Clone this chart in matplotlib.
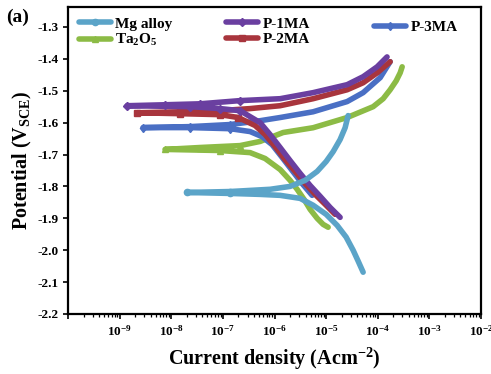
import numpy as np
import matplotlib
matplotlib.use("Agg")
import matplotlib.pyplot as plt
from matplotlib.ticker import LogLocator, NullFormatter

plt.rcParams.update({
    "font.family": ["Liberation Serif", "DejaVu Serif"],
    "font.weight": "bold",
    "mathtext.fontset": "custom",
    "mathtext.rm": "Liberation Serif:bold",
    "mathtext.bf": "Liberation Serif:bold",
    "mathtext.it": "Liberation Serif:italic:bold",
})

# Polarization curves: log10(i / A cm^-2) and E (V vs SCE),
# each ordered from the cathodic end, through Ecorr, to the anodic end.
mg_logi = [-4.283, -4.38, -4.477, -4.612, -4.787, -5.0, -5.252, -5.504, -5.891, -6.279, -6.86, -7.694,
           -6.86, -6.085, -5.698, -5.407, -5.174, -5.0, -4.864, -4.729, -4.632, -4.574]
mg_e = [-2.069, -2.034, -2.0, -1.959, -1.922, -1.8875, -1.859, -1.8375, -1.828, -1.825, -1.822, -1.819,
        -1.816, -1.809, -1.80, -1.781, -1.753, -1.722, -1.691, -1.653, -1.616, -1.578]

ta_logi = [-4.961, -5.058, -5.174, -5.31, -5.426, -5.562, -5.698, -5.891, -6.182, -6.473, -7.054, -8.12,
           -7.442, -6.667, -6.279, -5.833, -5.252, -4.593, -4.089, -3.895, -3.760, -3.643, -3.566, -3.527]
ta_e = [-1.928, -1.919, -1.90, -1.872, -1.841, -1.809, -1.781, -1.747, -1.7125, -1.694, -1.6875, -1.684,
        -1.678, -1.672, -1.659, -1.631, -1.616, -1.584, -1.55, -1.525, -1.497, -1.469, -1.444, -1.425]

p1_logi = [-4.729, -4.922, -5.116, -5.31, -5.504, -5.698, -5.891, -6.085, -6.279, -6.667, -7.054, -7.636, -8.857,
           -8.12, -7.442, -6.667, -5.891, -5.252, -4.593, -4.283, -4.012, -3.82]
p1_e = [-1.897, -1.866, -1.831, -1.797, -1.759, -1.719, -1.678, -1.6375, -1.60, -1.5625, -1.556, -1.55, -1.547,
        -1.544, -1.541, -1.531, -1.525, -1.506, -1.481, -1.456, -1.425, -1.394]

p2_logi = [-4.826, -5.019, -5.213, -5.407, -5.601, -5.795, -5.988, -6.182, -6.376, -6.705, -7.054, -7.829, -8.663,
           -7.829, -7.054, -6.473, -5.891, -5.252, -4.593, -4.283, -4.012, -3.760]
p2_e = [-1.8875, -1.856, -1.825, -1.791, -1.753, -1.716, -1.675, -1.6375, -1.609, -1.584, -1.575, -1.572, -1.569,
        -1.566, -1.5625, -1.556, -1.547, -1.525, -1.497, -1.475, -1.444, -1.409]

p3_logi = [-5.271, -5.465, -5.659, -5.853, -6.047, -6.24, -6.473, -6.86, -7.636, -8.547,
           -7.636, -6.86, -6.279, -5.891, -5.252, -4.593, -4.283, -3.953, -3.760]
p3_e = [-1.828, -1.791, -1.75, -1.709, -1.669, -1.644, -1.628, -1.619, -1.6156, -1.6156,
        -1.6125, -1.606, -1.594, -1.584, -1.566, -1.534, -1.506, -1.459, -1.409]

labels = ["Mg alloy", r"Ta$_\mathbf{2}$O$_\mathbf{5}$", "P-1MA", "P-2MA", "P-3MA"]
curves = [(mg_logi, mg_e), (ta_logi, ta_e), (p1_logi, p1_e), (p2_logi, p2_e), (p3_logi, p3_e)]
colors = ["#5ba4c8", "#8cbb45", "#6a3fa0", "#a8353d", "#4a6fc4"]
markers = ["o", "^", "D", "s", "d"]
draw_order = [1, 4, 3, 2, 0]

y_ticks = [-2.2, -2.1, -2.0, -1.9, -1.8, -1.7, -1.6, -1.5, -1.4, -1.3]
x_exps = [-10, -9, -8, -7, -6, -5, -4, -3, -2]

fig = plt.figure(figsize=(4.91, 3.74), dpi=100)
ax = fig.add_axes([68 / 491, 60 / 374, 413 / 491, 307 / 374])

handles = [None] * len(labels)
for k in draw_order:
    logi, e = curves[k]
    logi = np.asarray(logi)
    # symbols are only legible on the flat stretch around Ecorr
    show = list(logi < -6.6)
    h, = ax.plot(10 ** logi, e, color=colors[k], lw=4.0,
                 marker=markers[k], ms=4.5, mec=colors[k], mfc=colors[k], markevery=show,
                 solid_capstyle="round", solid_joinstyle="round", label=labels[k])
    handles[k] = h

ax.set_xscale("log")
ax.set_xlim(1e-10, 1e-2)
ax.set_ylim(-2.2, -1.2375)

ax.set_xticks([10.0 ** k for k in x_exps])
ax.set_xticklabels([""] + [r"$\mathbf{10^{%d}}$" % k for k in x_exps[1:]])
ax.xaxis.set_minor_locator(LogLocator(base=10, subs=np.arange(2, 10), numticks=20))
ax.xaxis.set_minor_formatter(NullFormatter())
ax.set_yticks(y_ticks)
ax.set_yticklabels([f"{v:.1f}" for v in y_ticks])

ax.tick_params(axis="both", which="major", direction="out", length=3.5, width=1.2,
               top=False, right=False, labelsize=9.5)
ax.tick_params(axis="x", pad=4)
ax.tick_params(axis="x", which="minor", direction="out", length=2.2, width=0.9)
for sp in ax.spines.values():
    sp.set_linewidth(1.6)

ax.set_xlabel(r"Current density (Acm$^{\mathbf{-2}}$)", fontsize=14.5, fontweight="bold", labelpad=5)
ax.set_ylabel(r"Potential (V$_{\mathbf{SCE}}$)", fontsize=14.5, fontweight="bold", labelpad=2)

legend_kw = dict(frameon=False, fontsize=11, handlelength=2.1, handletextpad=0.3,
                 labelspacing=0.12, borderpad=0, borderaxespad=0, loc="upper left")
leg1 = ax.legend([handles[0], handles[1]], labels[0:2],
                 bbox_to_anchor=(0.026, 0.968), **legend_kw)
ax.add_artist(leg1)
leg2 = ax.legend([handles[2], handles[3]], labels[2:4],
                 bbox_to_anchor=(0.382, 0.968), **legend_kw)
ax.add_artist(leg2)
ax.legend([handles[4]], [labels[4]], bbox_to_anchor=(0.74, 0.956), **legend_kw)

fig.text(0.012, 0.978, "(a)", fontsize=14, fontweight="bold", va="top", ha="left")

fig.savefig("out.png", dpi=100)
